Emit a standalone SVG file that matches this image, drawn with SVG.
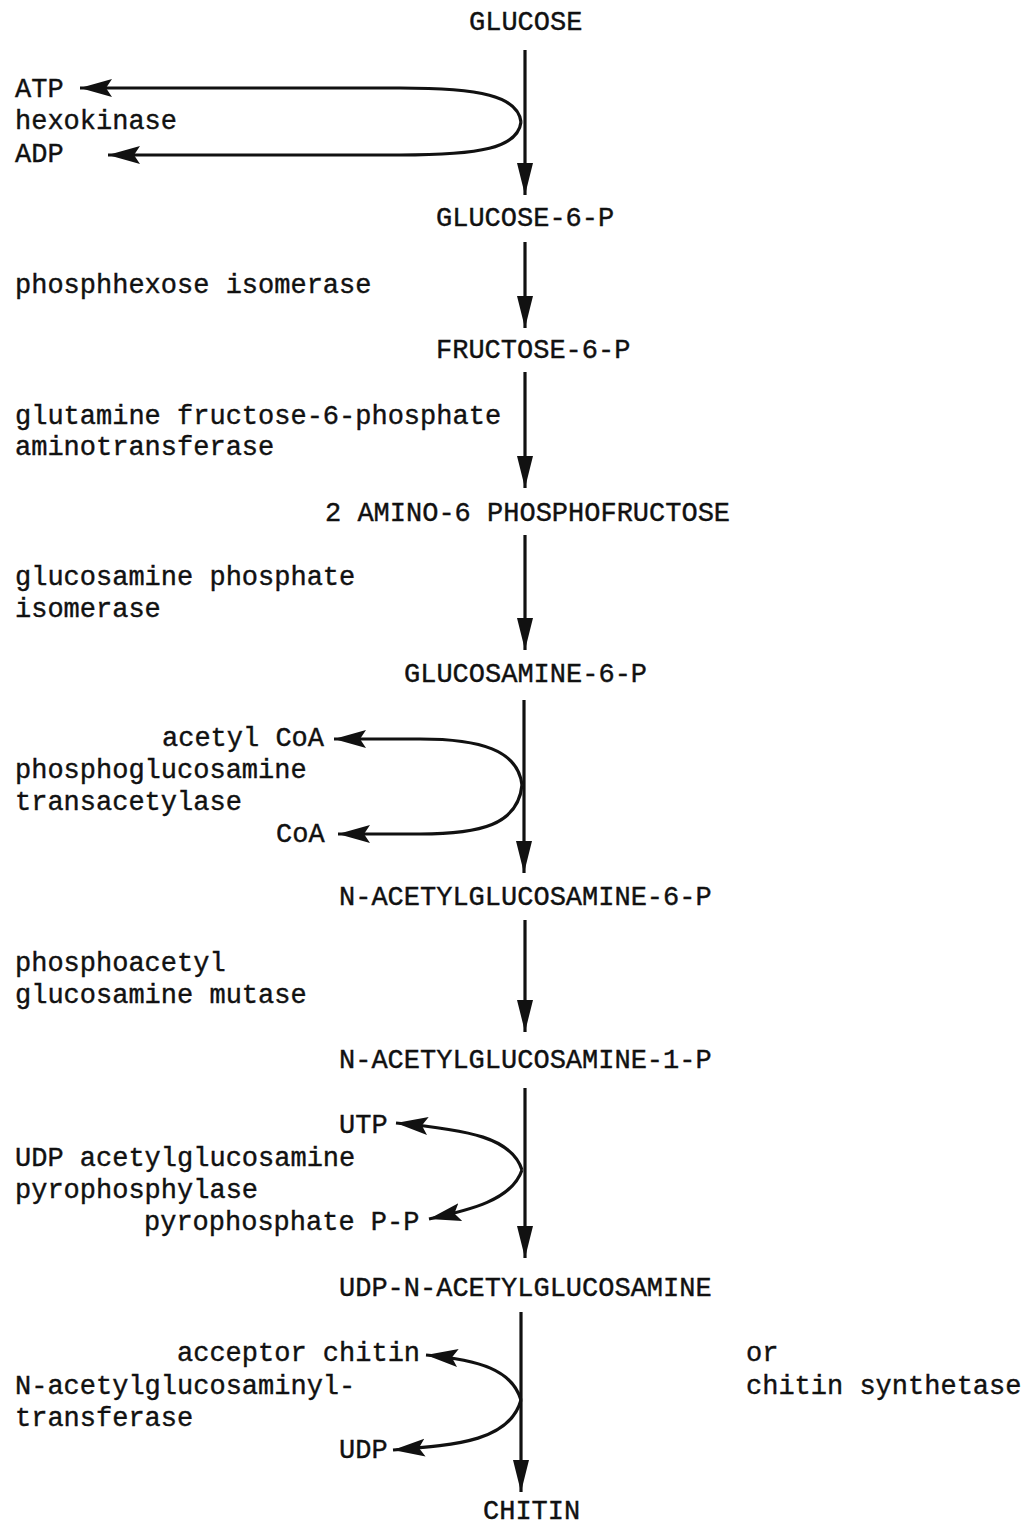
<svg xmlns="http://www.w3.org/2000/svg" width="1026" height="1527" viewBox="0 0 1026 1527">
<style>
text{font-family:"Liberation Mono","Courier New",monospace;font-size:27px;fill:#111;stroke:#111;stroke-width:0.4}
.main{stroke:#111;stroke-width:3.2;fill:none}
.side{stroke:#111;stroke-width:3.2;fill:none}
</style>
<defs>
<marker id="ah" markerUnits="userSpaceOnUse" markerWidth="34" markerHeight="22" viewBox="0 0 34 22" refX="32" refY="11" orient="auto">
<path d="M0,2 L32,11 L0,20 L6,11 Z" fill="#111"/>
</marker>
<marker id="ahm" markerUnits="userSpaceOnUse" markerWidth="34" markerHeight="20" viewBox="0 0 34 20" refX="32" refY="10" orient="auto">
<path d="M0,2 L32,10 L0,18 Z" fill="#111"/>
</marker>
</defs>
<g id="connectors">
<path class="main" d="M525,50 L525,195" marker-end="url(#ahm)"/>
<path class="main" d="M525,242 L525,328" marker-end="url(#ahm)"/>
<path class="main" d="M525,372 L525,488" marker-end="url(#ahm)"/>
<path class="main" d="M525,535 L525,650" marker-end="url(#ahm)"/>
<path class="main" d="M524,700 L524,873" marker-end="url(#ahm)"/>
<path class="main" d="M525,920 L525,1032" marker-end="url(#ahm)"/>
<path class="main" d="M525,1088 L525,1258" marker-end="url(#ahm)"/>
<path class="main" d="M521,1312 L521,1492" marker-end="url(#ahm)"/>
<path class="side" d="M521,122 C518,96 480,88 400,88 L80,88" marker-end="url(#ah)"/>
<path class="side" d="M521,122 C518,148 480,155 400,155 L108,155" marker-end="url(#ah)"/>
<path class="side" d="M522,785 C518,750 480,739 420,739 L334,739" marker-end="url(#ah)"/>
<path class="side" d="M522,785 C518,825 480,834 420,834 L338,834" marker-end="url(#ah)"/>
<path class="side" d="M522,1170 C512,1138 470,1130 396,1123" marker-end="url(#ah)"/>
<path class="side" d="M522,1170 C512,1200 470,1210 429,1219" marker-end="url(#ah)"/>
<path class="side" d="M521,1400 C512,1370 480,1360 426,1355" marker-end="url(#ah)"/>
<path class="side" d="M521,1400 C510,1440 460,1445 393,1450" marker-end="url(#ah)"/>
</g>
<g id="n-glucose"><text x="469" y="30">GLUCOSE</text></g>
<g id="n-hexokinase"><text x="15" y="97">ATP</text><text x="15" y="129">hexokinase</text><text x="15" y="162">ADP</text></g>
<g id="n-g6p"><text x="436" y="226">GLUCOSE-6-P</text></g>
<g id="n-phi"><text x="15" y="293">phosphhexose isomerase</text></g>
<g id="n-f6p"><text x="436" y="358">FRUCTOSE-6-P</text></g>
<g id="n-gfat"><text x="15" y="424">glutamine fructose-6-phosphate</text><text x="15" y="455">aminotransferase</text></g>
<g id="n-2amino"><text x="325" y="521">2 AMINO-6 PHOSPHOFRUCTOSE</text></g>
<g id="n-gpi"><text x="15" y="585">glucosamine phosphate</text><text x="15" y="617">isomerase</text></g>
<g id="n-gn6p"><text x="404" y="682">GLUCOSAMINE-6-P</text></g>
<g id="n-transacetylase"><text x="162" y="746">acetyl CoA</text><text x="15" y="778">phosphoglucosamine</text><text x="15" y="810">transacetylase</text><text x="276" y="842">CoA</text></g>
<g id="n-nag6p"><text x="339" y="905">N-ACETYLGLUCOSAMINE-6-P</text></g>
<g id="n-mutase"><text x="15" y="971">phosphoacetyl</text><text x="15" y="1003">glucosamine mutase</text></g>
<g id="n-nag1p"><text x="339" y="1068">N-ACETYLGLUCOSAMINE-1-P</text></g>
<g id="n-pyrophosphorylase"><text x="339" y="1133">UTP</text><text x="15" y="1166">UDP acetylglucosamine</text><text x="15" y="1198">pyrophosphylase</text><text x="144" y="1230">pyrophosphate P-P</text></g>
<g id="n-udpnag"><text x="339" y="1296">UDP-N-ACETYLGLUCOSAMINE</text></g>
<g id="n-transferase"><text x="177" y="1361">acceptor chitin</text><text x="15" y="1394">N-acetylglucosaminyl-</text><text x="15" y="1426">transferase</text><text x="339" y="1458">UDP</text></g>
<g id="n-synthetase"><text x="746" y="1361">or</text><text x="746" y="1394">chitin synthetase</text></g>
<g id="n-chitin"><text x="483" y="1519">CHITIN</text></g>
</svg>
